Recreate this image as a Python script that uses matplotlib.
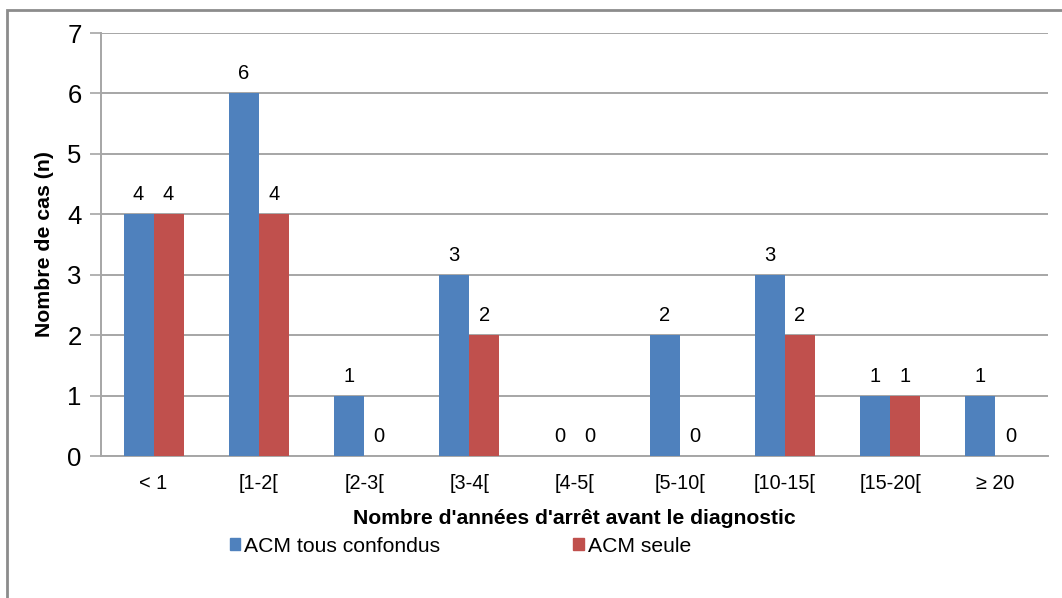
import matplotlib
matplotlib.use("Agg")
import matplotlib.pyplot as plt
from matplotlib.patches import Rectangle, Patch
import numpy as np

plt.rcParams['font.family'] = ['Liberation Sans', 'DejaVu Sans']

categories = ["< 1", "[1-2[", "[2-3[", "[3-4[", "[4-5[", "[5-10[", "[10-15[", "[15-20[", "≥ 20"]
tous_confondus = [4, 6, 1, 3, 0, 2, 3, 1, 1]
seule = [4, 4, 0, 2, 0, 0, 2, 1, 0]
series_names = ["ACM tous confondus", "ACM seule"]
y_ticks = [0, 1, 2, 3, 4, 5, 6, 7]

blue = "#4F81BD"
red = "#C0504D"
grid_col = "#A6A6A6"

fig = plt.figure(figsize=(10.62, 5.98), dpi=100)
ax = fig.add_axes([101/1062, 1-456/598, (1048-101)/1062, (456-33)/598])

x = np.arange(len(categories))
w = 0.285
b1 = ax.bar(x - w/2, tous_confondus, w, color=blue, zorder=3)
b2 = ax.bar(x + w/2, seule, w, color=red, zorder=3)

for bars, vals in ((b1, tous_confondus), (b2, seule)):
    for rect, v in zip(bars, vals):
        ax.annotate(str(v), (rect.get_x() + rect.get_width()/2, v),
                    xytext=(0, 14), textcoords="offset points",
                    ha="center", va="center", fontsize=14.5, color="#000000")

ax.set_xlim(-0.5, len(categories) - 0.5)
ax.set_ylim(0, 7)
ax.set_yticks(y_ticks)
ax.set_yticklabels([str(t) for t in y_ticks], fontsize=18.5)
ax.set_xticks(x)
ax.set_xticklabels(categories, fontsize=14.3)
ax.tick_params(axis='x', length=0, pad=13)
ax.tick_params(axis='y', length=8, width=1.2, color=grid_col, pad=6)

ax.yaxis.grid(True, color=grid_col, linewidth=1.4, zorder=0)
ax.set_axisbelow(True)
for s in ("top", "right"):
    ax.spines[s].set_visible(False)
for s in ("left", "bottom"):
    ax.spines[s].set_color(grid_col)
    ax.spines[s].set_linewidth(1.4)

ax.set_ylabel("Nombre de cas (n)", fontsize=15.3, fontweight="bold")
ax.yaxis.set_label_coords(-47/947, 0.5)
ax.set_xlabel("Nombre d'années d'arrêt avant le diagnostic", fontsize=15.2,
              fontweight="bold")
ax.xaxis.set_label_coords(0.5, -(518-456)/423)
ax.xaxis.label.set_va("center")

handles = [Patch(color=blue, label=series_names[0]), Patch(color=red, label=series_names[1])]
fig.legend(handles=handles, loc="center left", bbox_to_anchor=(211/1062, 1-546/598),
           ncol=2, frameon=False, fontsize=15.2, handlelength=0.48, handleheight=0.48,
           handletextpad=0.2, columnspacing=6.3)

# outer frame (left and top visible)
fig.add_artist(Rectangle((7/1062, -0.1), 1.2, 1 - 10/598 + 0.1, transform=fig.transFigure,
                         fill=False, edgecolor="#8C8C8C", linewidth=2))

fig.savefig("out.png", dpi=100)
